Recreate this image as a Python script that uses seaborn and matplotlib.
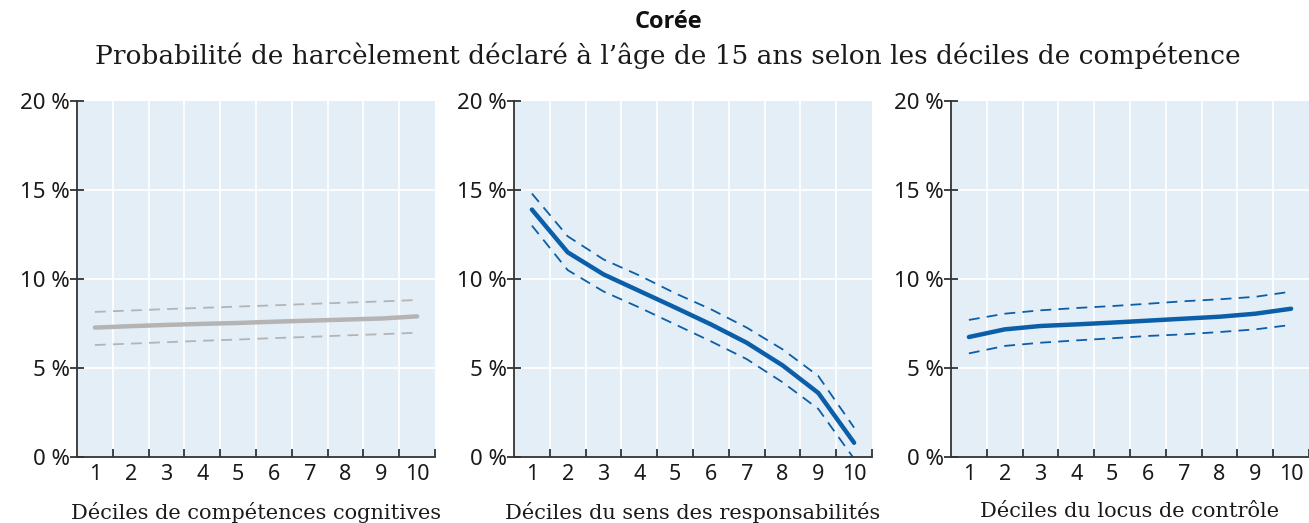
import matplotlib
matplotlib.use("Agg")
import matplotlib.pyplot as plt
import seaborn as sns
import pandas as pd
import numpy as np

deciles = [1, 2, 3, 4, 5, 6, 7, 8, 9, 10]

cog_mid = [7.27, 7.35, 7.42, 7.48, 7.53, 7.60, 7.66, 7.72, 7.78, 7.90]
cog_hi = [8.15, 8.23, 8.31, 8.38, 8.45, 8.52, 8.60, 8.67, 8.74, 8.82]
cog_lo = [6.29, 6.37, 6.45, 6.53, 6.60, 6.68, 6.75, 6.83, 6.90, 6.98]

resp_mid = [13.9, 11.5, 10.26, 9.33, 8.4, 7.45, 6.42, 5.15, 3.6, 0.8]
resp_hi = [14.8, 12.4, 11.1, 10.2, 9.2, 8.3, 7.27, 6.05, 4.55, 1.65]
resp_lo = [13.0, 10.5, 9.3, 8.4, 7.45, 6.5, 5.5, 4.2, 2.7, -0.1]

loc_mid = [6.74, 7.17, 7.36, 7.45, 7.55, 7.66, 7.77, 7.88, 8.05, 8.33]
loc_hi = [7.7, 8.05, 8.24, 8.37, 8.48, 8.61, 8.75, 8.86, 9.0, 9.29]
loc_lo = [5.82, 6.24, 6.42, 6.55, 6.67, 6.8, 6.89, 7.02, 7.17, 7.42]

y_ticks = [0, 5, 10, 15, 20]
y_tick_labels = ["0 %", "5 %", "10 %", "15 %", "20 %"]

xlabels = ["Déciles de compétences cognitives",
           "Déciles du sens des responsabilités",
           "Déciles du locus de contrôle"]
title = "Corée"
subtitle = "Probabilité de harcèlement déclaré à l’âge de 15 ans selon les déciles de compétence"

panels = [
    (cog_mid, cog_hi, cog_lo, "#b4b4b4"),
    (resp_mid, resp_hi, resp_lo, "#0b5ea8"),
    (loc_mid, loc_hi, loc_lo, "#0b5ea8"),
]

sns.set_theme(style="white")
plt.rcParams['font.family'] = ['Noto Sans', 'DejaVu Sans']

BG = "#e4eef6"
TXT = "#1a1a1a"
fig = plt.figure(figsize=(13.09, 5.23), dpi=100)
lefts = [77, 514, 951]
W, H = 1309, 523

for i, (mid, hi, lo, col) in enumerate(panels):
    ax = fig.add_axes([lefts[i] / W, 1 - 457 / H, 358 / W, (457 - 101) / H])
    ax.set_facecolor(BG)
    df = pd.DataFrame({
        "decile": deciles * 3,
        "value": mid + hi + lo,
        "serie": ["mid"] * 10 + ["hi"] * 10 + ["lo"] * 10,
    })
    sns.lineplot(data=df[df.serie == "mid"], x="decile", y="value", ax=ax,
                 color=col, linewidth=3.2, legend=False, solid_capstyle="round")
    for s in ["hi", "lo"]:
        sns.lineplot(data=df[df.serie == s], x="decile", y="value", ax=ax,
                     color=col, linewidth=1.3, legend=False)
        ax.lines[-1].set_dashes([6, 4])
    ax.set_xlim(0.5, 10.5)
    ax.set_ylim(0, 20)
    ax.set_xticks(deciles)
    ax.set_xticklabels([str(d) for d in deciles], fontsize=15.5, color=TXT)
    ax.set_xticks(np.arange(1.5, 10.6, 1), minor=True)
    ax.tick_params(axis="x", which="major", bottom=True, length=0, pad=5)
    ax.tick_params(axis="x", which="minor", bottom=True, length=6, width=1.3,
                   direction="in", color="#333333")
    ax.set_yticks(y_ticks)
    ax.set_yticklabels(y_tick_labels, fontsize=16, color=TXT)
    ax.tick_params(axis="y", left=True, length=10, width=1.3, direction="inout",
                   color="#333333", pad=0)
    for g in np.arange(1.5, 10.0, 1):
        ax.axvline(g, color="white", linewidth=1.2, zorder=0.5)
    for g in [5, 10, 15]:
        ax.axhline(g, color="white", linewidth=1.2, zorder=0.5)
    for sp in ["top", "right"]:
        ax.spines[sp].set_visible(False)
    for sp in ["left", "bottom"]:
        ax.spines[sp].set_color("#333333")
        ax.spines[sp].set_linewidth(1.3)
    ax.set_ylabel("")
    ax.set_xlabel(xlabels[i], fontsize=15, family=["DejaVu Serif"], color=TXT,
                  labelpad=12)

fig.text(668 / W, 1 - 22 / H, title, ha="center", va="center", fontsize=17,
         fontweight="bold", family=["Open Sans", "DejaVu Sans"], color="#111111")
fig.text(668 / W, 1 - 56 / H, subtitle, ha="center", va="center", fontsize=19,
         family=["DejaVu Serif"], color=TXT)

fig.savefig("out.png", dpi=100)
